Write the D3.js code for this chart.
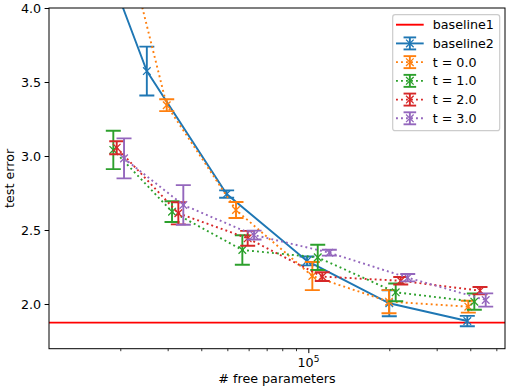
<!DOCTYPE html>
<html>
<head>
<meta charset="utf-8">
<script src="https://cdn.jsdelivr.net/npm/d3@7"></script>
<style>
  body { margin: 0; background: #fff; }
  text { font-family: "DejaVu Sans", sans-serif; fill: #000; }
</style>
</head>
<body>
<div id="chart"></div>
<script>
// Data (x = # free parameters, y = test error, e = half error bar)
const baseline1Value = 1.874;

const baseline2Params = [12700, 25100, 49700, 98900, 200000, 390000];
const baseline2Error  = [5.0, 3.574, 2.743, 2.291, 2.005, 1.885];
const baseline2Std    = [0.15, 0.165, 0.025, 0.03, 0.088, 0.035];

const t0Params = [17500, 29760, 53850, 103500, 199500, 393400];
const t0Error  = [5.02, 3.343, 2.635, 2.189, 2.016, 1.982];
const t0Std    = [0.1, 0.04, 0.054, 0.095, 0.078, 0.04];

const t1Params = [18840, 31140, 56850, 108400, 211300, 414100];
const t1Error  = [3.041, 2.624, 2.365, 2.315, 2.079, 2.016];
const t1Std    = [0.13, 0.07, 0.1, 0.085, 0.06, 0.055];

const t2Params = [19400, 32870, 59510, 112700, 220600, 434800];
const t2Error  = [3.056, 2.613, 2.444, 2.185, 2.157, 2.09];
const t2Std    = [0.044, 0.075, 0.05, 0.03, 0.025, 0.025];

const t3Params = [20650, 34300, 62840, 119700, 234200, 456500];
const t3Error  = [2.984, 2.669, 2.466, 2.347, 2.178, 2.027];
const t3Std    = [0.135, 0.134, 0.03, 0.02, 0.025, 0.045];

const yTicks = [2.0, 2.5, 3.0, 3.5, 4.0];
const xMinorTicks = [2e4, 3e4, 4e4, 5e4, 6e4, 7e4, 8e4, 9e4, 2e5, 3e5, 4e5, 5e5];
const xMajorTicks = [1e5];

const series = [
  { name: 'baseline2', x: baseline2Params, y: baseline2Error, e: baseline2Std, color: '#1f77b4', dotted: false },
  { name: 't = 0.0', x: t0Params, y: t0Error, e: t0Std, color: '#ff7f0e', dotted: true },
  { name: 't = 1.0', x: t1Params, y: t1Error, e: t1Std, color: '#2ca02c', dotted: true },
  { name: 't = 2.0', x: t2Params, y: t2Error, e: t2Std, color: '#d62728', dotted: true },
  { name: 't = 3.0', x: t3Params, y: t3Error, e: t3Std, color: '#9467bd', dotted: true }
];

// ---------------------------------------------------------------------------
// layout
// ---------------------------------------------------------------------------
const W = 510, H = 391;
const margin = { top: 8, right: 5, bottom: 42.3, left: 49 };
const width = W - margin.left - margin.right;
const height = H - margin.top - margin.bottom;
const fontSize = 12.7;
const lw = 1.9;
const dotDash = '1.9,3.1';
const capHalf = 7.5;
const markHalf = 3.8;

const svg = d3.select('#chart').append('svg')
  .attr('width', W)
  .attr('height', H);

const g = svg.append('g')
  .attr('transform', `translate(${margin.left},${margin.top})`);

g.append('clipPath').attr('id', 'plot-clip')
  .append('rect').attr('width', width).attr('height', height);

// ---------------------------------------------------------------------------
// scales
// ---------------------------------------------------------------------------
const x = d3.scaleLog()
  .domain([10864, 538500])
  .range([0, width]);

const y = d3.scaleLinear()
  .domain([1.698, 4.0])
  .range([height, 0]);

// ---------------------------------------------------------------------------
// axes
// ---------------------------------------------------------------------------
const yAxis = g.append('g')
  .call(d3.axisLeft(y).tickValues(yTicks).tickFormat(d3.format('.1f'))
    .tickSize(4.4).tickPadding(3.5));
yAxis.select('.domain').remove();
yAxis.selectAll('line').attr('stroke', '#000').attr('stroke-width', 1);
yAxis.selectAll('text').style('font-size', fontSize + 'px').attr('dy', '0.36em');

const xMinor = g.append('g')
  .attr('transform', `translate(0,${height})`)
  .call(d3.axisBottom(x).tickValues(xMinorTicks).tickFormat('').tickSize(2.5));
xMinor.select('.domain').remove();
xMinor.selectAll('line').attr('stroke', '#000').attr('stroke-width', 0.8);

const xMajor = g.append('g')
  .attr('transform', `translate(0,${height})`)
  .call(d3.axisBottom(x).tickValues(xMajorTicks).tickFormat('').tickSize(4.4));
xMajor.select('.domain').remove();
xMajor.selectAll('line').attr('stroke', '#000').attr('stroke-width', 1);

// 10^5 label with a superscript
xMajorTicks.forEach(v => {
  const t = g.append('text')
    .attr('x', x(v) - 10.8)
    .attr('y', height + 18.4)
    .style('font-size', fontSize + 'px');
  t.append('tspan').text('10');
  t.append('tspan').attr('dy', -5).style('font-size', '9px').text('5');
});

// axis labels
g.append('text')
  .attr('x', width / 2)
  .attr('y', height + 34)
  .attr('text-anchor', 'middle')
  .style('font-size', fontSize + 'px')
  .text('# free parameters');

g.append('text')
  .attr('transform', 'rotate(-90)')
  .attr('x', -height / 2)
  .attr('y', -35.5)
  .attr('text-anchor', 'middle')
  .style('font-size', fontSize + 'px')
  .text('test error');

// ---------------------------------------------------------------------------
// plot content (clipped)
// ---------------------------------------------------------------------------
const plot = g.append('g').attr('clip-path', 'url(#plot-clip)');

plot.append('line')
  .attr('x1', 0).attr('x2', width)
  .attr('y1', y(baseline1Value)).attr('y2', y(baseline1Value))
  .attr('stroke', 'red')
  .attr('stroke-width', lw);

const line = d3.line()
  .x(d => x(d[0]))
  .y(d => y(d[1]));

series.forEach(s => {
  const pts = s.x.map((v, i) => [v, s.y[i], s.e[i]]);
  const sg = plot.append('g');

  sg.append('path')
    .datum(pts)
    .attr('d', line)
    .attr('fill', 'none')
    .attr('stroke', s.color)
    .attr('stroke-width', lw)
    .attr('stroke-dasharray', s.dotted ? dotDash : null);

  // error bars
  sg.selectAll('.bar')
    .data(pts)
    .enter()
    .append('line')
    .attr('x1', d => x(d[0])).attr('x2', d => x(d[0]))
    .attr('y1', d => y(d[1] - d[2])).attr('y2', d => y(d[1] + d[2]))
    .attr('stroke', s.color)
    .attr('stroke-width', lw);

  // caps
  [-1, 1].forEach(sign => {
    sg.selectAll('.cap')
      .data(pts)
      .enter()
      .append('line')
      .attr('x1', d => x(d[0]) - capHalf).attr('x2', d => x(d[0]) + capHalf)
      .attr('y1', d => y(d[1] + sign * d[2])).attr('y2', d => y(d[1] + sign * d[2]))
      .attr('stroke', s.color)
      .attr('stroke-width', lw);
  });

  // x markers
  sg.selectAll('.marker')
    .data(pts)
    .enter()
    .append('path')
    .attr('d', d => {
      const cx = x(d[0]), cy = y(d[1]), m = markHalf;
      return `M${cx - m},${cy - m}L${cx + m},${cy + m}M${cx - m},${cy + m}L${cx + m},${cy - m}`;
    })
    .attr('stroke', s.color)
    .attr('stroke-width', 1.3)
    .attr('fill', 'none');
});

// frame
g.append('rect')
  .attr('width', width)
  .attr('height', height)
  .attr('fill', 'none')
  .attr('stroke', '#000')
  .attr('stroke-width', 1);

// ---------------------------------------------------------------------------
// legend
// ---------------------------------------------------------------------------
const legend = svg.append('g');
legend.append('rect')
  .attr('x', 392.7).attr('y', 14.7)
  .attr('width', 107).attr('height', 116)
  .attr('rx', 2.5)
  .attr('fill', 'rgba(255,255,255,0.8)')
  .attr('stroke', '#cccccc')
  .attr('stroke-width', 1.2);

const legendItems = [{ name: 'baseline1', color: 'red', dotted: false, plain: true }].concat(series);
const hx0 = 396, hx1 = 423.7, hxc = (hx0 + hx1) / 2;

legendItems.forEach((s, i) => {
  const cy = 24.7 + i * 18.72;
  const lg = legend.append('g');
  lg.append('line')
    .attr('x1', hx0).attr('x2', hx1)
    .attr('y1', cy).attr('y2', cy)
    .attr('stroke', s.color)
    .attr('stroke-width', lw)
    .attr('stroke-dasharray', s.dotted ? dotDash : null);
  if (!s.plain) {
    lg.append('line')
      .attr('x1', hxc).attr('x2', hxc)
      .attr('y1', cy - 6).attr('y2', cy + 6)
      .attr('stroke', s.color).attr('stroke-width', lw);
    [-6, 6].forEach(o => {
      lg.append('line')
        .attr('x1', hxc - 6.3).attr('x2', hxc + 6.3)
        .attr('y1', cy + o).attr('y2', cy + o)
        .attr('stroke', s.color).attr('stroke-width', lw);
    });
    lg.append('path')
      .attr('d', `M${hxc - markHalf},${cy - markHalf}L${hxc + markHalf},${cy + markHalf}M${hxc - markHalf},${cy + markHalf}L${hxc + markHalf},${cy - markHalf}`)
      .attr('stroke', s.color).attr('stroke-width', 1.3).attr('fill', 'none');
  }
  lg.append('text')
    .attr('x', 432.7)
    .attr('y', cy)
    .attr('dy', '0.36em')
    .style('font-size', fontSize + 'px')
    .text(s.name);
});
</script>
</body>
</html>
